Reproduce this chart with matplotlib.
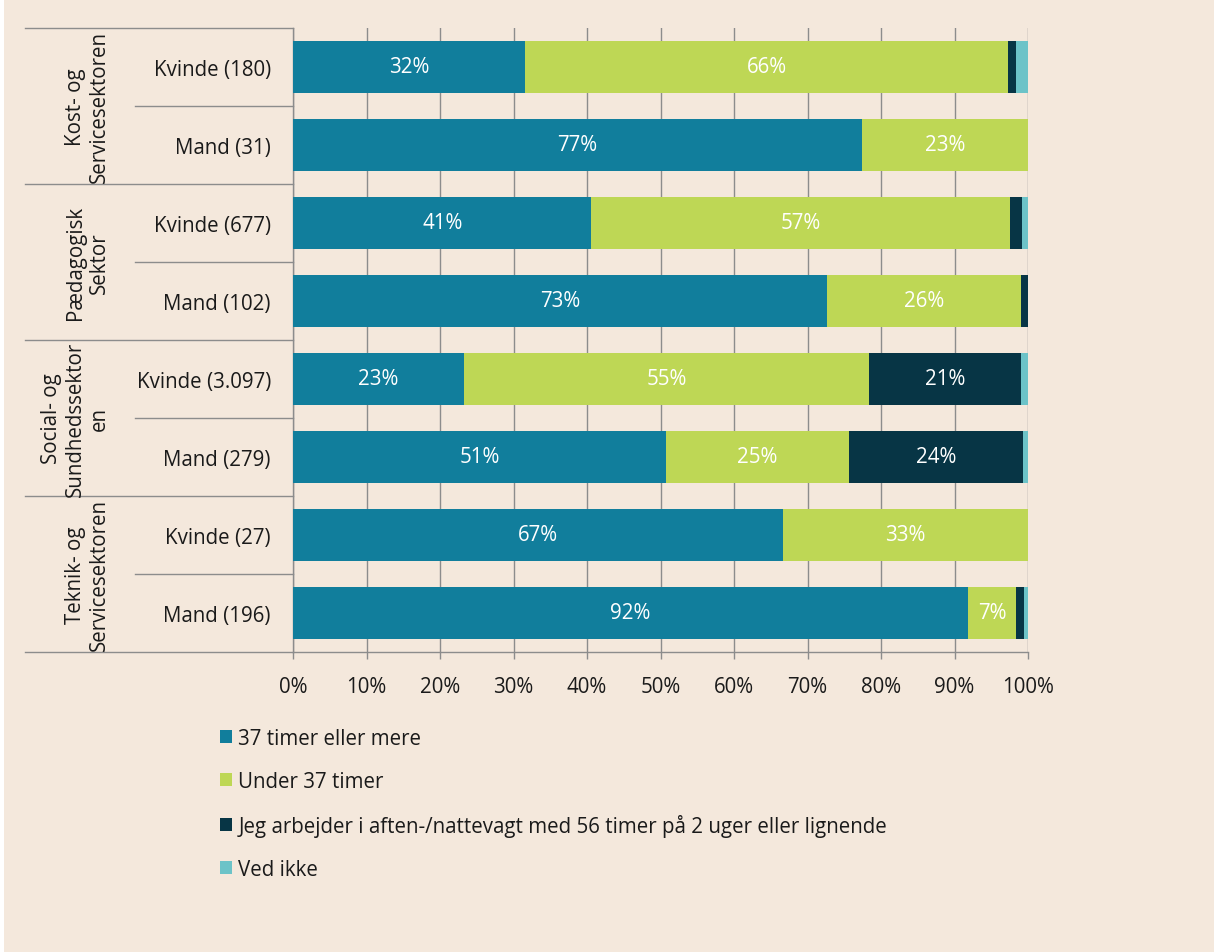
import matplotlib.pyplot as plt
import matplotlib.transforms as mtransforms
from matplotlib.patches import Patch, Rectangle
import numpy as np

plt.rcParams['font.family'] = ['Open Sans', 'DejaVu Sans']

# data
rows = ['Kvinde (180)', 'Mand (31)', 'Kvinde (677)', 'Mand (102)',
        'Kvinde (3.097)', 'Mand (279)', 'Kvinde (27)', 'Mand (196)']
groups = ['Kost- og\nServicesektoren', 'Pædagogisk\nSektor',
          'Social- og\nSundhedssektor\nen', 'Teknik- og\nServicesektoren']
series = ['37 timer eller mere', 'Under 37 timer',
          'Jeg arbejder i aften-/nattevagt med 56 timer på 2 uger eller lignende',
          'Ved ikke']
timer37 = [31.6, 77.4, 40.6, 72.6, 23.3, 50.7, 66.7, 91.8]
under37 = [65.7, 22.6, 57.0, 26.4, 55.1, 24.9, 33.3, 6.6]
nattevagt = [1.1, 0.0, 1.6, 1.0, 20.6, 23.7, 0.0, 1.1]
vedikke = [1.6, 0.0, 0.8, 0.0, 1.0, 0.7, 0.0, 0.5]
xticks = [0, 10, 20, 30, 40, 50, 60, 70, 80, 90, 100]

colors = ['#117e9c', '#bed755', '#073545', '#6cc3c8']
bg = '#f4e8dc'
linec = '#8c8c8c'
fs = 14.8

fig = plt.figure(figsize=(12.14, 9.53), dpi=100, facecolor=bg)
fig.patches.append(Rectangle((0, 0), 4 / 1214, 1, transform=fig.transFigure,
                             facecolor='white', edgecolor='none'))
ax = fig.add_axes([293 / 1214, 1 - 653 / 953, 735 / 1214, 624 / 953])
ax.set_facecolor(bg)

y = np.arange(len(rows))
left = np.zeros(len(rows))
for vals, c in zip([timer37, under37, nattevagt, vedikke], colors):
    vals = np.array(vals)
    bars = ax.barh(y, vals, left=left, height=0.667, color=c, zorder=3)
    for b, v in zip(bars, vals):
        if v >= 5:
            ax.text(b.get_x() + b.get_width() / 2, b.get_y() + b.get_height() / 2,
                    f'{v:.0f}%', ha='center', va='center', color='white',
                    fontsize=fs, zorder=4)
    left += vals

ax.set_xlim(0, 100)
ax.set_ylim(len(rows) - 0.5, -0.5)
ax.set_xticks(xticks)
ax.set_xticklabels([f'{t}%' for t in xticks], fontsize=fs, color='#1a1a1a')
ax.set_yticks(y)
ax.set_yticklabels(rows, fontsize=fs, color='#1a1a1a')
ax.tick_params(axis='y', length=0, pad=16)
ax.tick_params(axis='x', length=5, width=1.0, color=linec, pad=12)
ax.grid(axis='x', color=linec, linewidth=1.0, zorder=0)
for s in ['top', 'right']:
    ax.spines[s].set_visible(False)
for s in ['left', 'bottom']:
    ax.spines[s].set_color(linec)
    ax.spines[s].set_linewidth(1.0)

# category separators and group labels
tr = mtransforms.blended_transform_factory(fig.transFigure, ax.transData)
for i in range(len(rows) + 1):
    yy = i - 0.5
    x0 = 25 / 1214 if i % 2 == 0 else 135 / 1214
    ax.plot([x0, 293 / 1214], [yy, yy], transform=tr, color=linec,
            linewidth=1.0, clip_on=False)
for g, name in enumerate(groups):
    ax.text(110 / 1214, 2 * g + 0.5, name, transform=tr, rotation=90,
            ha='right', va='center', multialignment='center',
            fontsize=fs, color='#1a1a1a', linespacing=1.2)

handles = [Patch(facecolor=c, edgecolor='none') for c in colors]
fig.legend(handles, series, loc='upper left',
           bbox_to_anchor=(220 / 1214, 1 - 729 / 953), frameon=False,
           fontsize=fs, handlelength=0.6, handleheight=0.6,
           handletextpad=0.3, labelspacing=1.07, borderpad=0,
           borderaxespad=0, labelcolor='#1a1a1a')

fig.savefig('out.png', dpi=100, facecolor=bg)
